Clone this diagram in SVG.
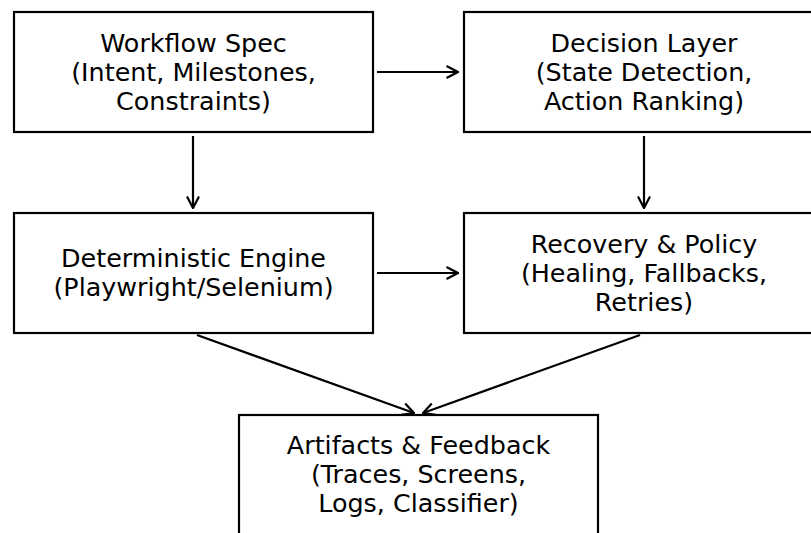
<svg xmlns="http://www.w3.org/2000/svg" width="811" height="533" viewBox="0 0 811 533">
  <style>
    .box { fill: #ffffff; stroke: #000000; stroke-width: 2.2; }
    .lbl { font-family: "DejaVu Sans", sans-serif; font-size: 25.4px; fill: #000000; text-anchor: middle; }
    .edge { fill: none; stroke: #000000; stroke-width: 2.2; marker-end: url(#arrow); }
  </style>
  <defs>
    <marker id="arrow" viewBox="0 0 14 14" refX="13" refY="7" markerWidth="14" markerHeight="14" markerUnits="userSpaceOnUse" orient="auto">
      <path d="M1.5,1 L13,7 L1.5,13" fill="none" stroke="#000000" stroke-width="2.2"/>
    </marker>
  </defs>
  <rect width="811" height="533" fill="#ffffff"/>

  <g id="workflow-spec">
    <rect class="box" x="14" y="12" width="359" height="120"/>
    <text class="lbl" x="193.5" y="51.5">Workflow Spec</text>
    <text class="lbl" x="193.5" y="80.5">(Intent, Milestones,</text>
    <text class="lbl" x="193.5" y="109.5">Constraints)</text>
  </g>

  <g id="decision-layer">
    <rect class="box" x="464" y="12" width="360" height="120"/>
    <text class="lbl" x="644" y="51.5">Decision Layer</text>
    <text class="lbl" x="644" y="80.5">(State Detection,</text>
    <text class="lbl" x="644" y="109.5">Action Ranking)</text>
  </g>

  <g id="deterministic-engine">
    <rect class="box" x="14" y="213" width="359" height="120"/>
    <text class="lbl" x="193.5" y="267">Deterministic Engine</text>
    <text class="lbl" x="193.5" y="296">(Playwright/Selenium)</text>
  </g>

  <g id="recovery-policy">
    <rect class="box" x="464" y="213" width="360" height="120"/>
    <text class="lbl" x="644" y="252.5">Recovery &amp; Policy</text>
    <text class="lbl" x="644" y="281.5">(Healing, Fallbacks,</text>
    <text class="lbl" x="644" y="310.5">Retries)</text>
  </g>

  <g id="artifacts-feedback">
    <rect class="box" x="239" y="415" width="359" height="122"/>
    <text class="lbl" x="418.5" y="454">Artifacts &amp; Feedback</text>
    <text class="lbl" x="418.5" y="483">(Traces, Screens,</text>
    <text class="lbl" x="418.5" y="512">Logs, Classifier)</text>
  </g>

  <g id="connectors">
    <line class="edge" x1="377" y1="72" x2="458" y2="72"/>
    <line class="edge" x1="193" y1="136" x2="193" y2="208"/>
    <line class="edge" x1="644" y1="136" x2="644" y2="208"/>
    <line class="edge" x1="377" y1="273" x2="458" y2="273"/>
    <line class="edge" x1="197" y1="335" x2="414" y2="413"/>
    <line class="edge" x1="640" y1="335" x2="423" y2="413"/>
  </g>
</svg>
